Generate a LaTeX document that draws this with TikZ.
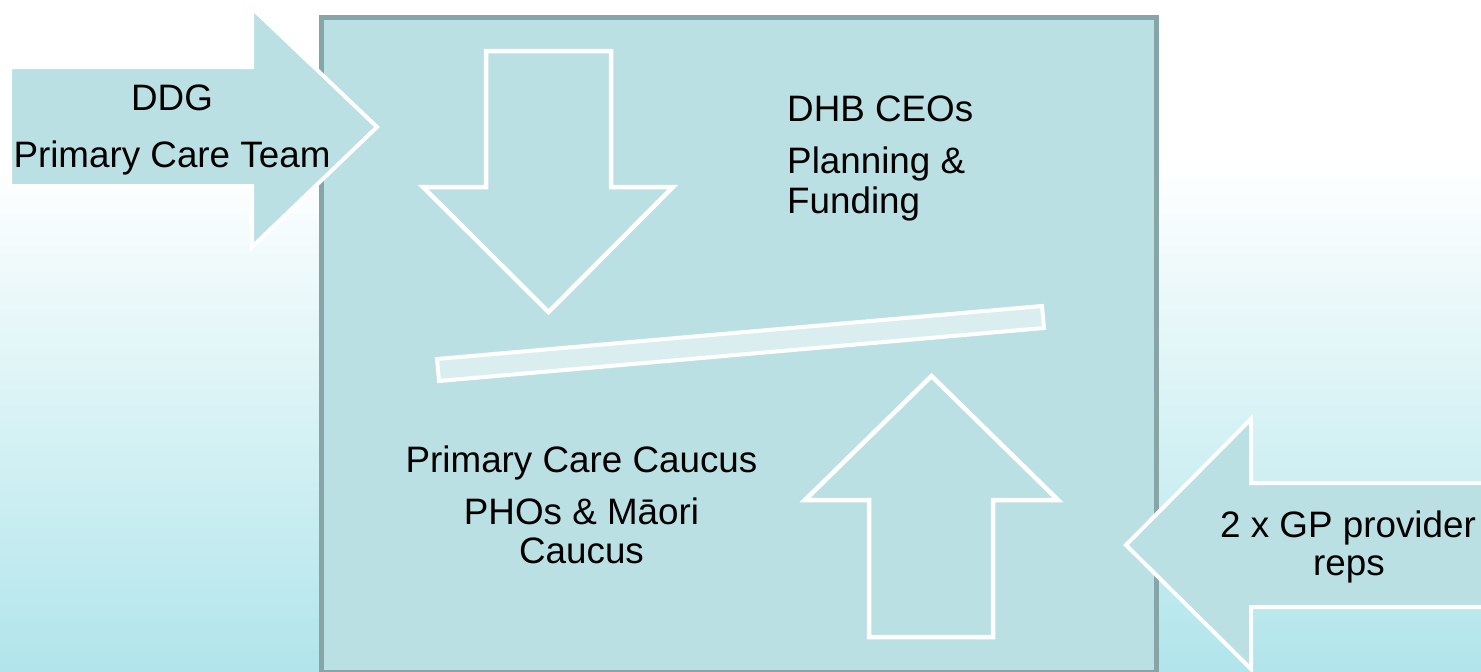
\documentclass[tikz,border=0pt]{standalone}
\usepackage{fontspec}
\setmainfont{Liberation Sans}
\definecolor{boxfill}{HTML}{BBE0E3}
\definecolor{boxline}{HTML}{87A5A7}
\definecolor{bgcyan}{HTML}{B0E5EB}
\definecolor{barfill}{HTML}{DAEEF0}
\tikzset{
  lbl/.style={inner sep=0pt, font=\fontsize{36.8}{41}\selectfont, text=black},
  solidarrow/.style={fill=boxfill, draw=white, line width=4pt, line join=miter},
  hollowarrow/.style={draw=white, line width=4.5pt, line join=miter},
  mainbox/.style={fill=boxfill, draw=boxline, line width=5pt},
  barshape/.style={fill=barfill, draw=white, line width=4pt}
}
\begin{document}
\begin{tikzpicture}[x=1pt,y=-1pt]
\useasboundingbox (0,0) rectangle (1481,672);
% background
\fill[white] (0,0) rectangle (1481,672);
\shade[top color=white, bottom color=bgcyan] (0,165) rectangle (1481,672);
% main box
\draw[mainbox] (321.5,17.5) rectangle (1156.5,672);
% down arrow (outline)
\draw[hollowarrow] (486,51) -- (611,51) -- (611,187) -- (673,187) -- (548.5,312) -- (423,187) -- (486,187) -- cycle;
% up arrow (outline)
\draw[hollowarrow] (931.5,376) -- (1058,500) -- (993,500) -- (993,637) -- (869,637) -- (869,500) -- (805,500) -- cycle;
% tilted bar
\draw[barshape] (437,359) -- (1042,306) -- (1044,328) -- (439,381) -- cycle;
% left arrow
\draw[solidarrow] (10,67) -- (252,67) -- (252,8) -- (377,127) -- (252,247) -- (252,186) -- (10,186) -- cycle;
% right arrow
\draw[solidarrow] (1500,483) -- (1251,483) -- (1251,419) -- (1126,545) -- (1251,669) -- (1251,607) -- (1500,607);
% texts
\node[lbl, anchor=base] (ddg) at (172,110) {DDG};
\node[lbl, anchor=base] (pct) at (172,167) {Primary Care Team};
\node[lbl, anchor=base west] (dhb) at (787,121) {DHB CEOs};
\node[lbl, anchor=base west] (plan) at (787,173) {Planning \&};
\node[lbl, anchor=base west] (fund) at (787,213) {Funding};
\node[lbl, anchor=base] (pcc) at (581.5,472) {Primary Care Caucus};
\node[lbl, anchor=base] (pho) at (581.5,524) {PHOs \& Māori};
\node[lbl, anchor=base] (cau) at (581.5,563) {Caucus};
\node[lbl, anchor=base] (gp) at (1348,537) {2 x GP provider};
\node[lbl, anchor=base] (reps) at (1349,575) {reps};
\end{tikzpicture}
\end{document}
